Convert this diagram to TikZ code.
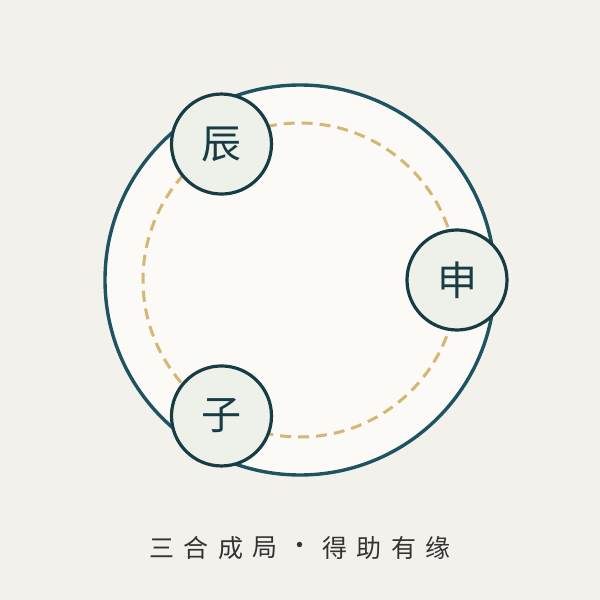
\documentclass[tikz,border=0pt]{standalone}
\usepackage{fontspec}
\newfontfamily\cjk{Noto Sans CJK SC}
\usepackage{tikz}
\usetikzlibrary{calc,positioning}
\definecolor{paper}{HTML}{F3F1EC}
\definecolor{plate}{HTML}{FBFAF6}
\definecolor{ring}{HTML}{1E5462}
\definecolor{seal}{HTML}{173D44}
\definecolor{sealfill}{HTML}{EEF0EA}
\definecolor{gold}{HTML}{D6B672}
\definecolor{ink}{HTML}{333333}
\tikzset{
    x=1pt, y=1pt,
    plate/.style={
        circle,
        fill=plate,
        draw=ring, line width=3.4pt,
        minimum size=390pt,
        inner sep=0pt
    },
    orbit/.style={draw=gold, line width=3pt, dash pattern=on 11pt off 7pt},
    branch/.style={
        circle,
        fill=sealfill,
        draw=seal, line width=3.2pt,
        minimum size=100pt,
        inner sep=0pt,
        text=seal,
        font={\cjk\fontsize{40pt}{44pt}\selectfont}
    },
    caption/.style={
        text=ink,
        inner sep=0pt,
        font={\cjk\fontsize{25pt}{28pt}\selectfont}
    },
}

\begin{document}
\begin{tikzpicture}
\fill[paper] (-300,-320) rectangle (300,280);
\useasboundingbox (-300,-320) rectangle (300,280);
\node[plate] (dish) at (0,0) {};
\draw[orbit] (dish.center) circle (157);
% three branches on the orbit
\node[branch] (chen) at (120:157) {辰};
\node[branch] (shen) at (0:157) {申};
\node[branch] (zi) at (240:157) {子};
% caption
\coordinate (cap) at (0,-268);
\foreach \ch [count=\i] in {三,合,成,局,·,得,助,有,缘}
    \node[caption] (cap\i) at ($(cap)+({(\i-5)*34.6},0)$) {\ch};
\end{tikzpicture}
\end{document}
